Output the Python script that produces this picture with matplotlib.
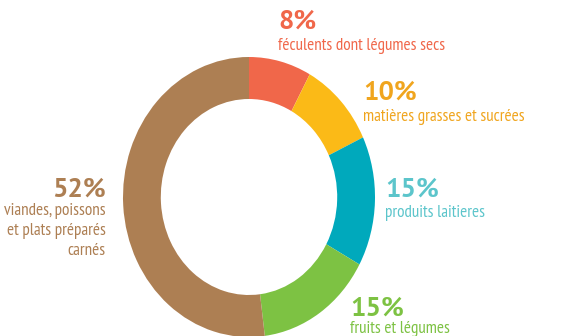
import numpy as np
import matplotlib
matplotlib.use("Agg")
import matplotlib.pyplot as plt

# données
shares = [8, 10, 15, 15, 52]
pct_labels = ["8%", "10%", "15%", "15%", "52%"]
names = [["féculents dont légumes secs"],
         ["matières grasses et sucrées"],
         ["produits laitieres"],
         ["fruits et légumes"],
         ["viandes, poissons", "et plats préparés", "carnés"]]
ring_colors = ["#F0674A", "#FBBA17", "#00A9BC", "#7DC243", "#AD7F53"]
text_colors = ["#F0674A", "#F0A51E", "#5CC5CB", "#7DC243", "#AD7F53"]

W, H = 584, 336
fig = plt.figure(figsize=(W / 100, H / 100), dpi=100)

# anneau (légèrement étiré verticalement comme l'original)
left, top, right, bottom = 123, 57, 375, 337
ax = fig.add_axes([left / W, 1 - bottom / H, (right - left) / W, (bottom - top) / H])
ax.pie(shares, colors=ring_colors, startangle=90, counterclock=False,
       radius=1, wedgeprops=dict(width=0.3, linewidth=0))
ax.set_aspect("auto")
ax.set_xlim(-1, 1)
ax.set_ylim(-1, 1)
ax.axis("off")

narrow = ["PT Sans Narrow", "DejaVu Sans"]
bold = ["PT Sans", "DejaVu Sans"]

# positions des textes (pixels) : x, ligne de base du %, ligne de base du libellé, alignement
pos = [(278, 29, 50, "left"),
       (363, 100, 121, "left"),
       (385, 197, 217, "left"),
       (350, 316, 333, "left"),
       (106, 197, 215, "right")]

for (x, yp, yl, ha), p, lines, c in zip(pos, pct_labels, names, text_colors):
    fig.text(x / W, 1 - yp / H, p, color=c, fontsize=19.5, fontweight="bold",
             family=bold, ha=ha, va="baseline")
    for i, line in enumerate(lines):
        fig.text(x / W, 1 - (yl + 20 * i) / H, line, color=c, fontsize=12.3,
                 family=narrow, ha=ha, va="baseline")

fig.savefig("out.png", dpi=100)
